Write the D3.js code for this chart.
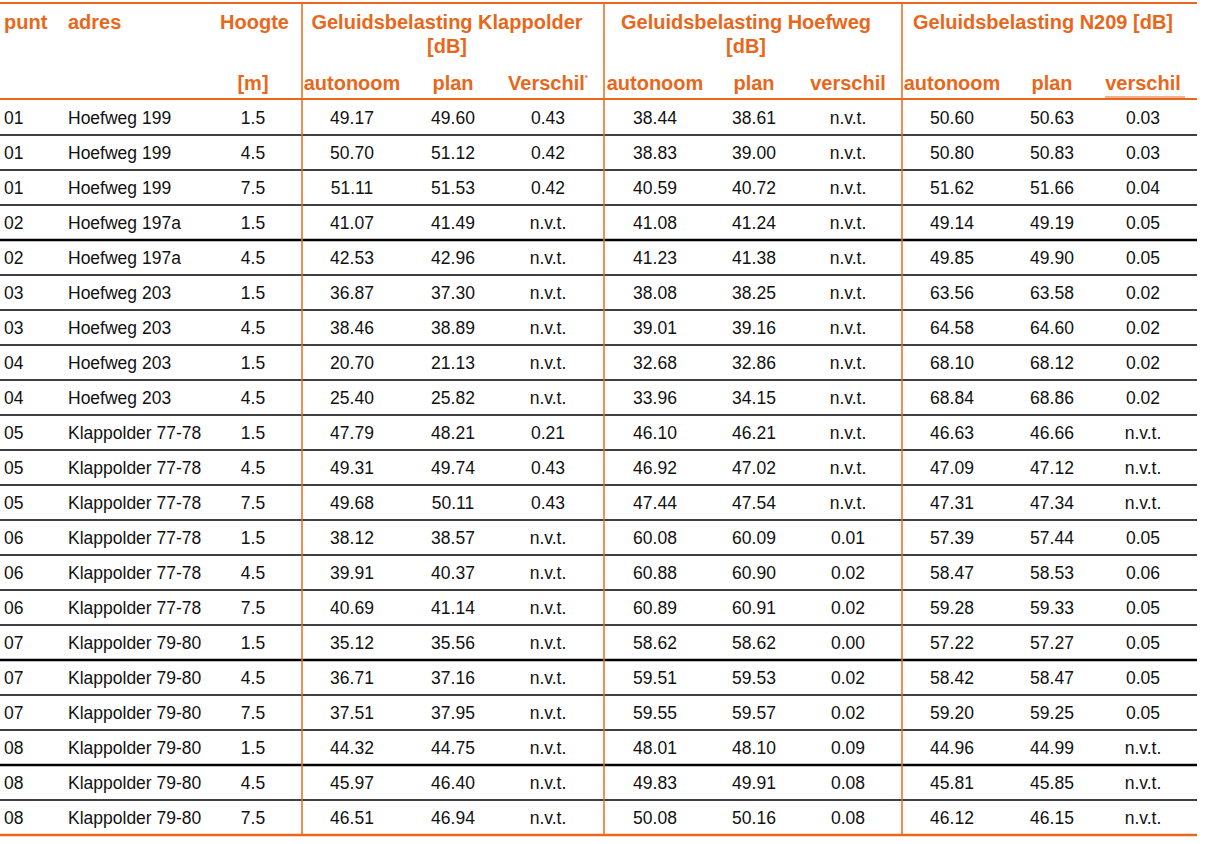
<!DOCTYPE html>
<html><head><meta charset="utf-8">
<script src="https://cdn.jsdelivr.net/npm/d3@7"></script>
<style>body{margin:0;background:#fff}svg{font-family:"Liberation Sans",Arial,sans-serif}</style>
</head><body><svg id="c" width="1206" height="844"></svg>
<script>
var punt = ["01","01","01","02","02","03","03","04","04","05","05","05","06","06","06","07","07","07","08","08","08"];
var adres = ["Hoefweg 199","Hoefweg 199","Hoefweg 199","Hoefweg 197a","Hoefweg 197a","Hoefweg 203","Hoefweg 203","Hoefweg 203","Hoefweg 203",
  "Klappolder 77-78","Klappolder 77-78","Klappolder 77-78","Klappolder 77-78","Klappolder 77-78","Klappolder 77-78",
  "Klappolder 79-80","Klappolder 79-80","Klappolder 79-80","Klappolder 79-80","Klappolder 79-80","Klappolder 79-80"];
var hoogte = ["1.5","4.5","7.5","1.5","4.5","1.5","4.5","1.5","4.5","1.5","4.5","7.5","1.5","4.5","7.5","1.5","4.5","7.5","1.5","4.5","7.5"];
var klapAut = ["49.17","50.70","51.11","41.07","42.53","36.87","38.46","20.70","25.40","47.79","49.31","49.68","38.12","39.91","40.69","35.12","36.71","37.51","44.32","45.97","46.51"];
var klapPlan = ["49.60","51.12","51.53","41.49","42.96","37.30","38.89","21.13","25.82","48.21","49.74","50.11","38.57","40.37","41.14","35.56","37.16","37.95","44.75","46.40","46.94"];
var klapVer = ["0.43","0.42","0.42","n.v.t.","n.v.t.","n.v.t.","n.v.t.","n.v.t.","n.v.t.","0.21","0.43","0.43","n.v.t.","n.v.t.","n.v.t.","n.v.t.","n.v.t.","n.v.t.","n.v.t.","n.v.t.","n.v.t."];
var hoefAut = ["38.44","38.83","40.59","41.08","41.23","38.08","39.01","32.68","33.96","46.10","46.92","47.44","60.08","60.88","60.89","58.62","59.51","59.55","48.01","49.83","50.08"];
var hoefPlan = ["38.61","39.00","40.72","41.24","41.38","38.25","39.16","32.86","34.15","46.21","47.02","47.54","60.09","60.90","60.91","58.62","59.53","59.57","48.10","49.91","50.16"];
var hoefVer = ["n.v.t.","n.v.t.","n.v.t.","n.v.t.","n.v.t.","n.v.t.","n.v.t.","n.v.t.","n.v.t.","n.v.t.","n.v.t.","n.v.t.","0.01","0.02","0.02","0.00","0.02","0.02","0.09","0.08","0.08"];
var n209Aut = ["50.60","50.80","51.62","49.14","49.85","63.56","64.58","68.10","68.84","46.63","47.09","47.31","57.39","58.47","59.28","57.22","58.42","59.20","44.96","45.81","46.12"];
var n209Plan = ["50.63","50.83","51.66","49.19","49.90","63.58","64.60","68.12","68.86","46.66","47.12","47.34","57.44","58.53","59.33","57.27","58.47","59.25","44.99","45.85","46.15"];
var n209Ver = ["0.03","0.03","0.04","0.05","0.05","0.02","0.02","0.02","0.02","n.v.t.","n.v.t.","n.v.t.","0.05","0.06","0.05","0.05","0.05","0.05","n.v.t.","n.v.t.","n.v.t."];
var groups = [["Geluidsbelasting Klappolder","[dB]"],["Geluidsbelasting Hoefweg","[dB]"],["Geluidsbelasting N209 [dB]"]];
var subHeads = ["autonoom","plan","Verschil","autonoom","plan","verschil","autonoom","plan","verschil"];
var thickAfter = [3,15,18];

var orange = "#E8671B";
var svg = d3.select("#c");
var y = d3.scaleBand().domain(d3.range(punt.length)).range([100, 835]);
var cols = [
  {v: punt, x: 4, a: "start"}, {v: adres, x: 68, a: "start"}, {v: hoogte, x: 253, a: "middle"},
  {v: klapAut, x: 352, a: "middle"}, {v: klapPlan, x: 453, a: "middle"}, {v: klapVer, x: 548, a: "middle"},
  {v: hoefAut, x: 655, a: "middle"}, {v: hoefPlan, x: 754, a: "middle"}, {v: hoefVer, x: 848, a: "middle"},
  {v: n209Aut, x: 952, a: "middle"}, {v: n209Plan, x: 1052, a: "middle"}, {v: n209Ver, x: 1143, a: "middle"}
];

// row separators
d3.range(1, punt.length).forEach(function(i){
  svg.append("line").attr("x1",0).attr("x2",1197).attr("y1",y(i)).attr("y2",y(i))
    .attr("stroke","#000").attr("stroke-width", thickAfter.indexOf(i-1)>=0 ? 2.6 : 1.4);
});
// orange lines
[[3,2],[99,2],[835,2.5]].forEach(function(l){
  svg.append("line").attr("x1",0).attr("x2",1197).attr("y1",l[0]).attr("y2",l[0]).attr("stroke",orange).attr("stroke-width",l[1]);
});
[302,604,902].forEach(function(x){
  svg.append("line").attr("x1",x).attr("x2",x).attr("y1",3).attr("y2",835).attr("stroke",orange).attr("stroke-width",1.5);
});

// data cells
cols.forEach(function(c){
  svg.append("g").selectAll("text").data(c.v).join("text")
    .attr("x", c.x).attr("y", function(d,i){ return y(i) + y.bandwidth()/2 + 6; })
    .attr("text-anchor", c.a).attr("font-size", 17.5).attr("fill","#111").text(function(d){ return d; });
});

// headers
var hd = svg.append("g").attr("fill", orange).attr("font-weight","bold").attr("font-size",20);
hd.append("text").attr("x",4).attr("y",29).text("punt");
hd.append("text").attr("x",68).attr("y",29).text("adres");
hd.append("text").attr("x",289).attr("y",29).attr("text-anchor","end").text("Hoogte");
hd.append("text").attr("x",253).attr("y",90).attr("text-anchor","middle").text("[m]");
var gx = [447, 746, 1043];
groups.forEach(function(g,i){
  g.forEach(function(t,j){
    hd.append("text").attr("x",gx[i]).attr("y",29 + j*24).attr("text-anchor","middle").text(t);
  });
});
subHeads.forEach(function(t,i){
  var c = cols[i+3];
  var tx = hd.append("text").attr("x", c.x).attr("y",90).attr("text-anchor","middle").text(t);
  if (i === 2) tx.append("tspan").attr("dy",-10).attr("font-size",8).text("*");
});
svg.append("line").attr("x1",1105).attr("x2",1185).attr("y1",97).attr("y2",97).attr("stroke",orange).attr("stroke-width",1);
</script></body></html>
